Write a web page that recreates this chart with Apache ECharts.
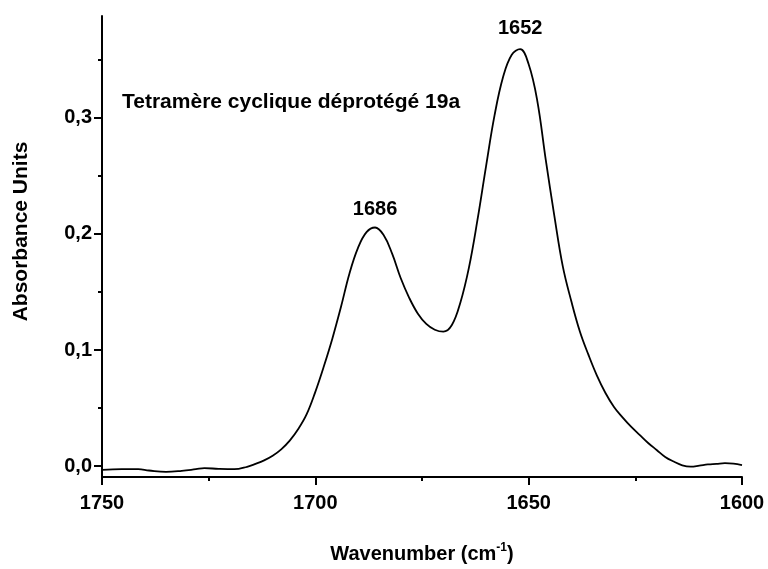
<!DOCTYPE html>
<html>
<head>
<meta charset="utf-8">
<script src="https://cdn.jsdelivr.net/npm/echarts@6/dist/echarts.min.js"></script>
<style>
  html, body { margin: 0; padding: 0; background: #fff; }
  #chart { width: 768px; height: 569px; }
</style>
</head>
<body>
<div id="chart"></div>
<script>
// IR spectrum, amide I region (wavenumber in cm-1, absorbance units)
const wavenumber = [
  1750, 1745.4, 1741.5, 1739, 1735, 1731.3, 1728, 1726, 1722.7, 1719,
  1716, 1714, 1712, 1710, 1708, 1706, 1704, 1702, 1700, 1698,
  1696, 1694, 1692, 1690, 1688, 1686, 1684, 1682, 1680, 1678,
  1676, 1674, 1672, 1670, 1668, 1666, 1664, 1662, 1660, 1658,
  1656, 1654, 1652, 1650, 1648, 1646, 1644, 1642, 1640, 1638,
  1636, 1634, 1632, 1630, 1628, 1626, 1624, 1622, 1620, 1618,
  1616, 1614, 1612, 1610, 1608, 1606, 1604, 1602, 1600
];
const absorbance = [
  -0.0032, -0.0026, -0.0026, -0.0037, -0.0049, -0.0040, -0.0026, -0.0017, -0.0023, -0.0026,
  -0.0005, 0.002, 0.005, 0.009, 0.0145, 0.022, 0.032, 0.045, 0.064, 0.086,
  0.110, 0.137, 0.166, 0.188, 0.2015, 0.2055, 0.199, 0.183, 0.162, 0.145,
  0.1315, 0.1225, 0.1175, 0.1158, 0.1215, 0.141, 0.171, 0.212, 0.258, 0.302,
  0.335, 0.354, 0.359, 0.346, 0.315, 0.264, 0.216, 0.172, 0.142, 0.116,
  0.096, 0.078, 0.063, 0.051, 0.042, 0.034, 0.027, 0.020, 0.014, 0.008,
  0.004, 0.0008, -0.0003, 0.0005, 0.0015, 0.002, 0.0026, 0.0022, 0.001
];

// Labelled band maxima
const peakWavenumbers = [1686, 1652];
const peakAbsorbance = [0.2055, 0.359];

// Axis ticks
const yMajorTicks = [0, 0.1, 0.2, 0.3];
const yMinorTicks = [0.05, 0.15, 0.25, 0.35];
const yRange = [-0.0093, 0.3876];
const xRange = [1600, 1750];
const xInterval = 50;

const sampleTitle = 'Tetramère cyclique déprotégé 19a';

const FONT = '"Liberation Sans", Arial, Helvetica, sans-serif';

const series = wavenumber.map((w, i) => [w, absorbance[i]]);

const chart = echarts.init(document.getElementById('chart'), null, { renderer: 'canvas' });

const option = {
  backgroundColor: '#ffffff',
  animation: false,
  grid: { left: 102, right: 26, top: 16, bottom: 90 },
  xAxis: {
    type: 'value',
    inverse: true,
    min: xRange[0],
    max: xRange[1],
    interval: xInterval,
    name: '{t|Wavenumber (cm}{s|-1}{t|)}',
    nameLocation: 'middle',
    nameGap: 65,
    nameTextStyle: {
      rich: {
        t: { fontFamily: FONT, fontWeight: 'bold', fontSize: 20, color: '#000' },
        s: { fontFamily: FONT, fontWeight: 'bold', fontSize: 12, color: '#000', padding: [0, 0, 12, 0] }
      }
    },
    axisLine: { show: true, onZero: false, lineStyle: { color: '#000', width: 2 } },
    axisTick: { show: true, inside: false, length: 8, lineStyle: { color: '#000', width: 2 } },
    minorTick: { show: true, splitNumber: 2, length: 4, lineStyle: { color: '#000', width: 2 } },
    axisLabel: {
      fontFamily: FONT, fontWeight: 'bold', fontSize: 20, color: '#000', margin: 16,
      formatter: v => String(v)
    },
    splitLine: { show: false }
  },
  yAxis: [
    {
      type: 'value',
      min: yRange[0],
      max: yRange[1],
      position: 'left',
      name: 'Absorbance Units',
      nameLocation: 'middle',
      nameGap: 70,
      nameTextStyle: {
        fontFamily: FONT, fontWeight: 'bold', fontSize: 21, color: '#000',
        padding: [0, 0, 0, 30]
      },
      axisLine: { show: true, onZero: false, lineStyle: { color: '#000', width: 2 } },
      axisTick: { show: true, length: 8, customValues: yMajorTicks, lineStyle: { color: '#000', width: 2 } },
      axisLabel: {
        customValues: yMajorTicks,
        fontFamily: FONT, fontWeight: 'bold', fontSize: 20, color: '#000', margin: 10,
        formatter: v => v.toFixed(1).replace('.', ',')
      },
      splitLine: { show: false }
    },
    {
      type: 'value',
      min: yRange[0],
      max: yRange[1],
      position: 'left',
      offset: 0,
      axisLine: { show: false },
      axisTick: { show: true, length: 4, customValues: yMinorTicks, lineStyle: { color: '#000', width: 2 } },
      axisLabel: { show: false },
      splitLine: { show: false }
    }
  ],
  series: [{
    type: 'line',
    data: series,
    smooth: 0.4,
    showSymbol: false,
    lineStyle: { color: '#000', width: 1.8 },
    markPoint: {
      symbol: 'circle',
      symbolSize: 0,
      itemStyle: { color: 'transparent' },
      label: {
        show: true,
        position: 'top',
        fontFamily: FONT, fontWeight: 'bold', fontSize: 20, color: '#000',
        formatter: p => p.name
      },
      data: peakWavenumbers.map((w, i) => ({
        name: String(w),
        coord: [w, peakAbsorbance[i]],
        label: { distance: i === 0 ? 8 : 11 }
      }))
    }
  }],
  graphic: [{
    type: 'text',
    left: 122,
    top: 92,
    style: {
      text: sampleTitle,
      font: 'bold 21px ' + FONT,
      fill: '#000'
    }
  }]
};

chart.setOption(option);
</script>
</body>
</html>
